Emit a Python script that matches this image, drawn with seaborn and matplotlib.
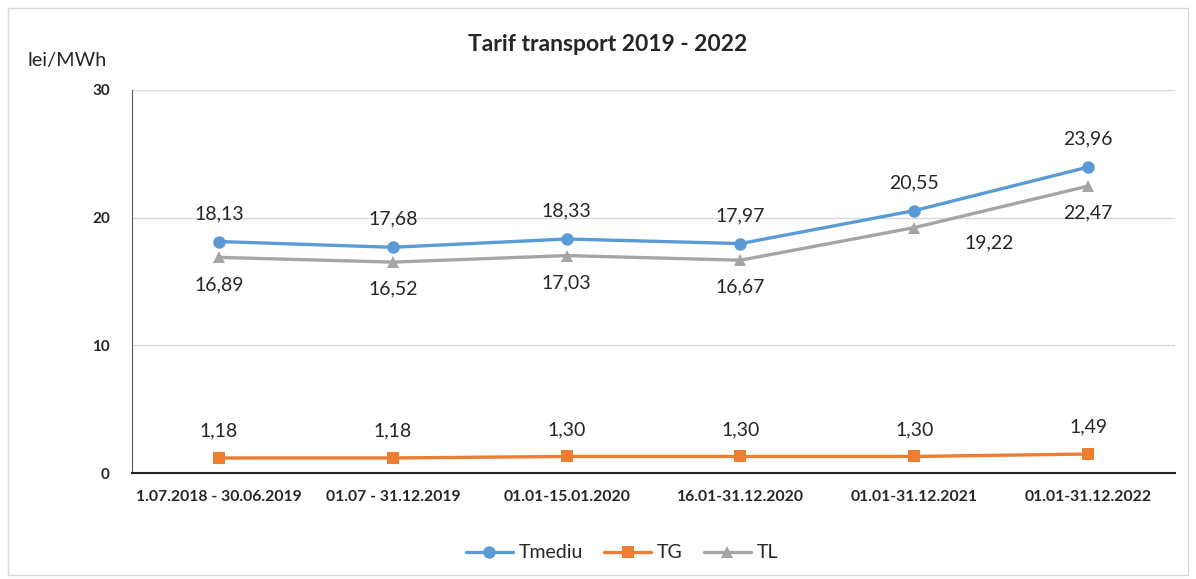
import pandas as pd
import matplotlib
import matplotlib.pyplot as plt
import seaborn as sns
from matplotlib.lines import Line2D
from matplotlib.patches import Rectangle
matplotlib.use("Agg")

# data
periods = ['1.07.2018 - 30.06.2019', '01.07 - 31.12.2019', '01.01-15.01.2020',
           '16.01-31.12.2020', '01.01-31.12.2021', '01.01-31.12.2022']
tmediu = [18.13, 17.68, 18.33, 17.97, 20.55, 23.96]
tg = [1.18, 1.18, 1.30, 1.30, 1.30, 1.49]
tl = [16.89, 16.52, 17.03, 16.67, 19.22, 22.47]

series_names = ['Tmediu', 'TG', 'TL']
colors = {'Tmediu': '#5B9BD5', 'TG': '#ED7D31', 'TL': '#A5A5A5'}
markers = {'Tmediu': 'o', 'TG': 's', 'TL': '^'}

df = pd.DataFrame({'period': periods * 3,
                   'value': tmediu + tg + tl,
                   'series': [s for s in series_names for _ in periods]})
df['x'] = list(range(len(periods))) * 3

sns.set_style('white')
plt.rcParams['font.family'] = ['Lato', 'DejaVu Sans']

fig = plt.figure(figsize=(11.96, 5.79), dpi=100)
ax = fig.add_axes([0.1104, 0.183, 0.872, 0.6616])

sns.lineplot(data=df, x='x', y='value', hue='series', style='series',
             palette=colors, markers=markers, dashes=False, markersize=9,
             markeredgewidth=0, linewidth=2.4, ax=ax, legend=False, sort=False)

ax.set_xlim(-0.5, len(periods) - 0.5)
ax.set_ylim(0, 30)
ax.set_yticks([0, 10, 20, 30])
ax.set_yticklabels(['0', '10', '20', '30'], fontsize=11, fontweight='bold')
ax.set_xticks(range(len(periods)))
ax.set_xticklabels(periods, fontsize=11.3, fontweight='bold')
ax.tick_params(axis='both', length=0, pad=12)
ax.tick_params(axis='y', pad=16)
ax.set_xlabel('')
ax.set_ylabel('')
ax.grid(axis='y', color='#D9D9D9', linewidth=1)
for side in ['top', 'right']:
    ax.spines[side].set_visible(False)
ax.spines['left'].set_color('#595959')
ax.spines['bottom'].set_color('#222222')
ax.spines['bottom'].set_linewidth(1.5)

def fmt(v):
    return f'{v:.2f}'.replace('.', ',')

for i, v in enumerate(tmediu):
    ax.annotate(fmt(v), (i, v), xytext=(0, 28), textcoords='offset pixels',
                ha='center', va='center', fontsize=14)
for i, v in enumerate(tg):
    ax.annotate(fmt(v), (i, v), xytext=(0, 27), textcoords='offset pixels',
                ha='center', va='center', fontsize=14)
for i, v in enumerate(tl):
    off = (75, -15) if i == 4 else (0, -27)
    ax.annotate(fmt(v), (i, v), xytext=off, textcoords='offset pixels',
                ha='center', va='center', fontsize=14)

fig.text(0.508, 0.924, 'Tarif transport 2019 - 2022', ha='center', va='center',
         fontsize=16.5, fontweight='bold')
fig.text(0.023, 0.895, 'lei/MWh', ha='left', va='center', fontsize=14.3)

handles = [Line2D([0], [0], color=colors[s], marker=markers[s], markersize=9,
                  markeredgewidth=0, linewidth=2.4) for s in series_names]
fig.legend(handles, series_names, loc='center', bbox_to_anchor=(0.52, 0.045),
           ncol=3, frameon=False, fontsize=14, handlelength=2.4,
           handletextpad=0.3, columnspacing=1.1)

fig.patches.append(Rectangle((8 / 1196, 4 / 579), 1180 / 1196, 567 / 579,
                             transform=fig.transFigure, fill=False,
                             edgecolor='#D9D9D9', linewidth=1))

fig.savefig('out.png', dpi=100)
